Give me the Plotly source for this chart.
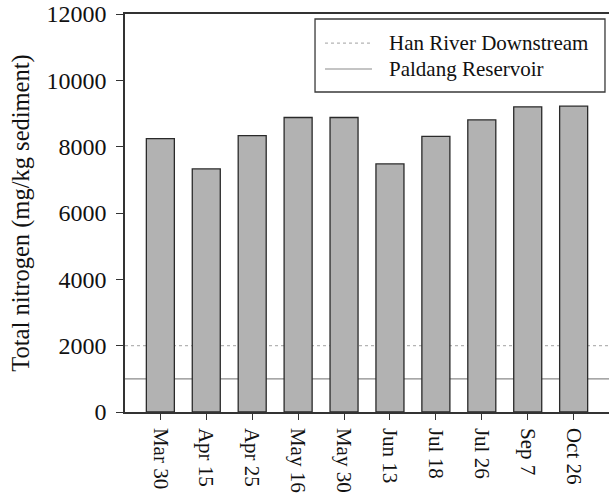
import plotly.graph_objects as go

# Sampling dates and total nitrogen in sediment (mg/kg)
dates = ["Mar 30", "Apr 15", "Apr 25", "May 16", "May 30",
         "Jun 13", "Jul 18", "Jul 26", "Sep 7", "Oct 26"]
total_nitrogen = [8240, 7330, 8330, 8880, 8880, 7480, 8310, 8810, 9200, 9220]

# Reference levels
ref_names = ["Han River Downstream", "Paldang Reservoir"]
ref_values = [2000, 1000]

y_ticks = [0, 2000, 4000, 6000, 8000, 10000, 12000]
y_tick_labels = ["0", "2000", "4000", "6000", "8000", "10000", "12000"]

FONT = "Liberation Serif"
ref_styles = [dict(color="#b4b4b4", width=1.2, dash="dot"),
              dict(color="#8a8a8a", width=1.2, dash="solid")]

fig = go.Figure()
fig.add_trace(go.Bar(
    x=dates, y=total_nitrogen, width=0.61,
    marker=dict(color="#b2b2b2", line=dict(color="#2a2a2a", width=1.3)),
    showlegend=False,
))

shapes = []
for val, st in zip(ref_values, ref_styles):
    shapes.append(dict(type="line", xref="paper", yref="y", x0=0, x1=1,
                       y0=val, y1=val, line=st, layer="below"))

# Legend box drawn by hand
lx0, lx1, ly0, ly1 = 0.3926, 0.9917, 0.804, 0.9874
shapes.append(dict(type="rect", xref="paper", yref="paper",
                   x0=lx0, x1=lx1, y0=ly0, y1=ly1,
                   line=dict(color="#3a3a3a", width=1.3),
                   fillcolor="white", layer="above"))
row_y = [0.927, 0.8618]
annotations = []
for name, st, ry in zip(ref_names, ref_styles, row_y):
    shapes.append(dict(type="line", xref="paper", yref="paper",
                       x0=0.4132, x1=0.5103, y0=ry, y1=ry,
                       line=st, layer="above"))
    annotations.append(dict(text=name, xref="paper", yref="paper",
                            x=0.5413, y=ry, xanchor="left", yanchor="middle",
                            showarrow=False,
                            font=dict(family=FONT, size=21, color="#111")))

fig.update_layout(
    width=609, height=495,
    margin=dict(l=125, r=0, t=14, b=83),
    paper_bgcolor="white", plot_bgcolor="white",
    font=dict(family=FONT, color="#111"),
    shapes=shapes, annotations=annotations,
    xaxis=dict(
        type="category", range=[-0.77, 9.77],
        showline=True, linecolor="#333", linewidth=1.5, mirror=True,
        ticks="outside", ticklen=6, tickcolor="#333", tickwidth=1.3,
        tickangle=90, showgrid=False, zeroline=False, ticklabelstandoff=4,
        tickfont=dict(family=FONT, size=21, color="#111"),
    ),
    yaxis=dict(
        range=[0, 12000], tickvals=y_ticks, ticktext=y_tick_labels,
        showline=True, linecolor="#333", linewidth=1.5,
        ticks="outside", ticklen=7, tickcolor="#333", tickwidth=1.3,
        showgrid=False, zeroline=False, ticklabelstandoff=5,
        tickfont=dict(family=FONT, size=24, color="#111"),
        title=dict(text="Total nitrogen (mg/kg sediment)", standoff=10,
                   font=dict(family=FONT, size=24.5, color="#111")),
    ),
)

fig.write_html("out.html")
